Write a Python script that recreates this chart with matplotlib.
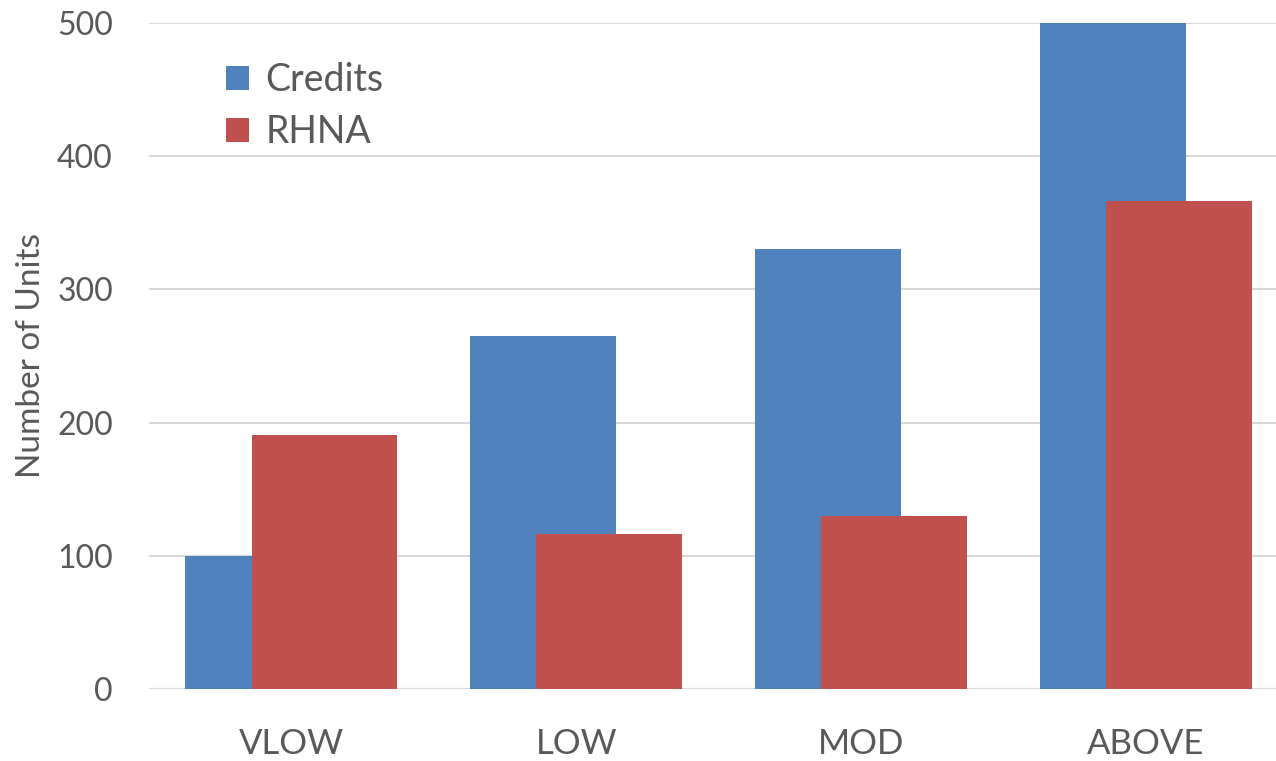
"""Overlapping bar chart: Credits vs RHNA by income category."""
import matplotlib
matplotlib.use("Agg")
import matplotlib.pyplot as plt
import numpy as np

categories = ["VLOW", "LOW", "MOD", "ABOVE"]
credits = [100, 265, 330, 500]
rhna = [191, 116, 130, 366]

BLUE = "#4F81BD"
RED = "#C0504D"
TEXT = "#595959"
GRID = "#D9D9D9"

plt.rcParams["font.family"] = ["Lato", "DejaVu Sans"]

fig = plt.figure(figsize=(12.76, 7.61), dpi=100)
ax = fig.add_axes([149 / 1276, 1 - 689 / 761, 1139.5 / 1276, 666 / 761])

x = np.arange(len(categories))
width = 0.512
shift = 0.116
ax.bar(x - shift, credits, width, color=BLUE, label="Credits", zorder=2)
ax.bar(x + shift, rhna, width, color=RED, label="RHNA", zorder=3)

ax.set_xlim(-0.5, 3.5)
ax.set_ylim(0, 500)
ax.set_yticks(range(0, 501, 100))
ax.set_xticks(x)
ax.set_xticklabels(categories)
ax.yaxis.grid(True, color=GRID, linewidth=1.5, zorder=0)
ax.set_axisbelow(True)
for side in ("top", "right", "left", "bottom"):
    ax.spines[side].set_visible(False)
ax.axhline(0, color=GRID, linewidth=1.5, zorder=1)

ax.tick_params(axis="both", length=0, labelsize=23, labelcolor=TEXT)
ax.tick_params(axis="x", labelsize=25, pad=28)
ax.tick_params(axis="y", pad=26)
ax.set_ylabel("Number of Units", fontsize=24, color=TEXT, labelpad=8)

leg = ax.legend(loc="upper left", bbox_to_anchor=(0.038, 0.992), frameon=False,
                fontsize=27, handlelength=0.6, handleheight=0.6,
                handletextpad=0.45, labelspacing=0.42, labelcolor=TEXT)

fig.savefig("out.png", dpi=100)
